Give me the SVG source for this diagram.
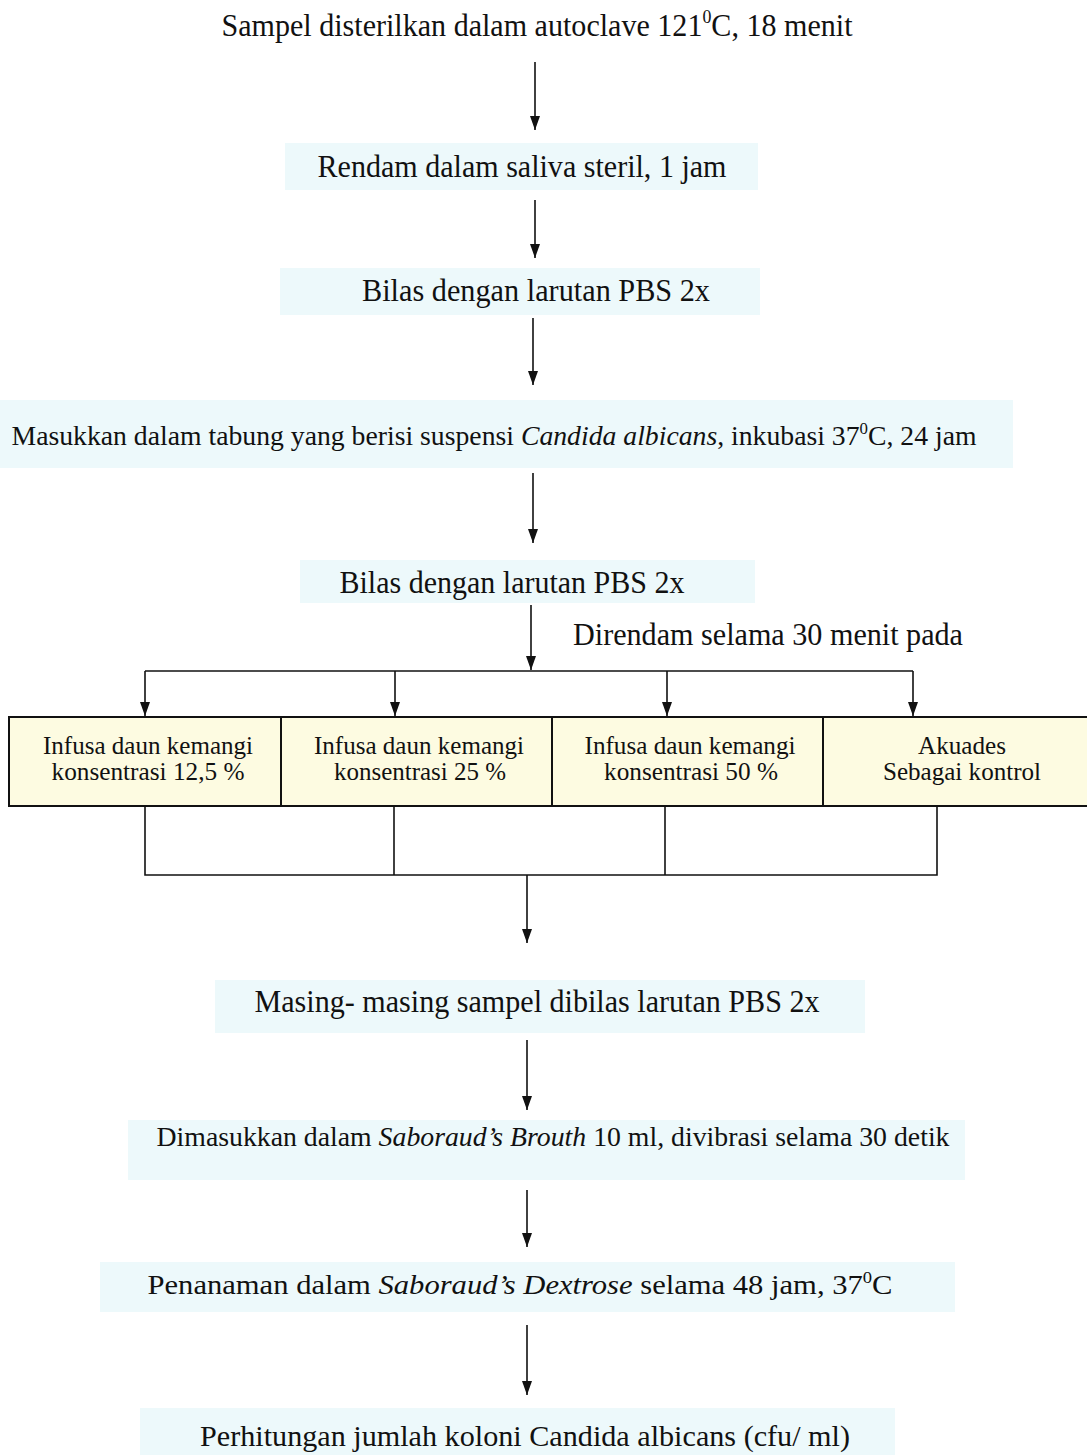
<svg xmlns="http://www.w3.org/2000/svg" width="1087" height="1455" viewBox="0 0 1087 1455">
<style>
text{font-family:'Liberation Serif','Times New Roman',Tinos,serif;fill:#111;text-anchor:middle}
.bg{fill:#edf9fb}
.box{fill:#fdfbe1;stroke:#111;stroke-width:2}
.ln{stroke:#111;stroke-width:1.6;fill:none}
</style>
<defs>
<marker id="ah" viewBox="0 0 14 10" refX="14" refY="5" markerWidth="14" markerHeight="10" markerUnits="userSpaceOnUse" orient="auto">
<path d="M0,0 L14,5 L0,10 Z" fill="#111"/>
</marker>
</defs>
<rect width="1087" height="1455" fill="#fff"/>
<g id="n1"><text x="537" y="36" font-size="32" textLength="631" lengthAdjust="spacingAndGlyphs">Sampel disterilkan dalam autoclave 121<tspan font-size="19" dy="-13">0</tspan><tspan dy="13">C, 18 menit</tspan></text></g>
<g id="n2"><rect class="bg" x="285" y="143" width="473" height="47"/><text x="522" y="177" font-size="32" textLength="409" lengthAdjust="spacingAndGlyphs">Rendam dalam saliva steril, 1 jam</text></g>
<g id="n3"><rect class="bg" x="280" y="268" width="480" height="47"/><text x="536" y="301" font-size="32" textLength="348" lengthAdjust="spacingAndGlyphs">Bilas dengan larutan PBS 2x</text></g>
<g id="n4"><rect class="bg" x="0" y="400" width="1013" height="68"/><text x="494" y="445" font-size="28" textLength="965" lengthAdjust="spacingAndGlyphs">Masukkan dalam tabung yang berisi suspensi <tspan font-style="italic">Candida albicans</tspan>, inkubasi 37<tspan font-size="17" dy="-11">0</tspan><tspan dy="11">C, 24 jam</tspan></text></g>
<g id="n5"><rect class="bg" x="300" y="560" width="455" height="43"/><text x="512" y="593" font-size="31" textLength="345" lengthAdjust="spacingAndGlyphs">Bilas dengan larutan PBS 2x</text></g>
<g id="lbl"><text x="768" y="645" font-size="31" textLength="390" lengthAdjust="spacingAndGlyphs">Direndam selama 30 menit pada</text></g>
<g id="b1"><rect class="box" x="9" y="717" width="272" height="89"/><text x="148" y="754" font-size="25" textLength="210" lengthAdjust="spacingAndGlyphs">Infusa daun kemangi</text><text x="148" y="780" font-size="25" textLength="193" lengthAdjust="spacingAndGlyphs">konsentrasi 12,5 %</text></g>
<g id="b2"><rect class="box" x="281" y="717" width="271" height="89"/><text x="419" y="754" font-size="25" textLength="210" lengthAdjust="spacingAndGlyphs">Infusa daun kemangi</text><text x="420" y="780" font-size="25" textLength="172" lengthAdjust="spacingAndGlyphs">konsentrasi 25 %</text></g>
<g id="b3"><rect class="box" x="552" y="717" width="271" height="89"/><text x="690" y="754" font-size="25" textLength="211" lengthAdjust="spacingAndGlyphs">Infusa daun kemangi</text><text x="691" y="780" font-size="25" textLength="174" lengthAdjust="spacingAndGlyphs">konsentrasi 50 %</text></g>
<g id="b4"><rect class="box" x="823" y="717" width="270" height="89"/><text x="962" y="754" font-size="25" textLength="88" lengthAdjust="spacingAndGlyphs">Akuades</text><text x="962" y="780" font-size="25" textLength="158" lengthAdjust="spacingAndGlyphs">Sebagai kontrol</text></g>
<g id="n6"><rect class="bg" x="215" y="980" width="650" height="53"/><text x="537" y="1012" font-size="31" textLength="565" lengthAdjust="spacingAndGlyphs">Masing- masing sampel dibilas larutan PBS 2x</text></g>
<g id="n7"><rect class="bg" x="128" y="1120" width="837" height="60"/><text x="553" y="1146" font-size="27" textLength="793" lengthAdjust="spacingAndGlyphs">Dimasukkan dalam <tspan font-style="italic">Saboraud’s Brouth</tspan> 10 ml, divibrasi selama 30 detik</text></g>
<g id="n8"><rect class="bg" x="100" y="1262" width="855" height="50"/><text x="520" y="1294" font-size="28" textLength="745" lengthAdjust="spacingAndGlyphs">Penanaman dalam <tspan font-style="italic">Saboraud’s Dextrose</tspan> selama 48  jam, 37<tspan font-size="17" dy="-11">0</tspan><tspan dy="11">C</tspan></text></g>
<g id="n9"><rect class="bg" x="140" y="1408" width="755" height="47"/><text x="525" y="1446" font-size="30" textLength="650" lengthAdjust="spacingAndGlyphs">Perhitungan jumlah koloni Candida albicans (cfu/ ml)</text></g>
<g id="connectors">
<line class="ln" x1="535" y1="62" x2="535" y2="130" marker-end="url(#ah)"/>
<line class="ln" x1="535" y1="200" x2="535" y2="258" marker-end="url(#ah)"/>
<line class="ln" x1="533" y1="318" x2="533" y2="385" marker-end="url(#ah)"/>
<line class="ln" x1="533" y1="473" x2="533" y2="543" marker-end="url(#ah)"/>
<line class="ln" x1="531" y1="605" x2="531" y2="670" marker-end="url(#ah)"/>
<line class="ln" x1="145" y1="671" x2="913" y2="671"/>
<line class="ln" x1="145" y1="671" x2="145" y2="716" marker-end="url(#ah)"/>
<line class="ln" x1="395" y1="671" x2="395" y2="716" marker-end="url(#ah)"/>
<line class="ln" x1="667" y1="671" x2="667" y2="716" marker-end="url(#ah)"/>
<line class="ln" x1="913" y1="671" x2="913" y2="716" marker-end="url(#ah)"/>
<polyline class="ln" points="145,806 145,875 937,875 937,806"/>
<line class="ln" x1="394" y1="806" x2="394" y2="875"/>
<line class="ln" x1="665" y1="806" x2="665" y2="875"/>
<line class="ln" x1="527" y1="875" x2="527" y2="943" marker-end="url(#ah)"/>
<line class="ln" x1="527" y1="1040" x2="527" y2="1110" marker-end="url(#ah)"/>
<line class="ln" x1="527" y1="1190" x2="527" y2="1247" marker-end="url(#ah)"/>
<line class="ln" x1="527" y1="1325" x2="527" y2="1395" marker-end="url(#ah)"/>
</g>
</svg>
